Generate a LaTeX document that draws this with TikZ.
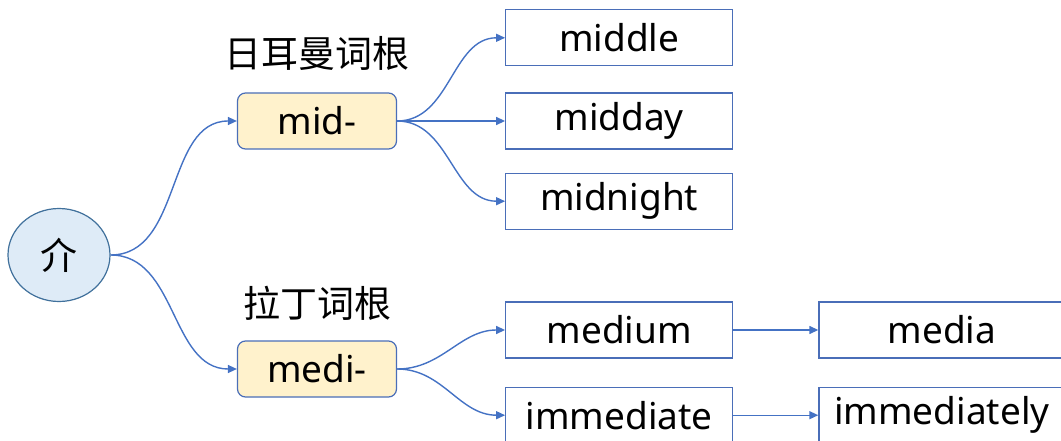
\documentclass[tikz,border=0pt]{standalone}
\usepackage{fontspec}
\setmainfont{Noto Sans}
\newfontfamily\cjk{Noto Sans CJK SC}
\usetikzlibrary{arrows.meta,positioning,shapes.geometric}
\definecolor{rootfill}{HTML}{DEEBF7}
\definecolor{rootline}{HTML}{41719C}
\definecolor{stemfill}{HTML}{FFF2CC}
\definecolor{boxline}{HTML}{4A6EB8}
\definecolor{arrblue}{HTML}{4472C4}
\newcommand{\bigtext}{\fontsize{37}{43}\selectfont}

\begin{document}
\begin{tikzpicture}[x=1pt, y=-1pt,
  rootnode/.style={ellipse, draw=rootline, fill=rootfill, line width=1.2pt, minimum width=102pt, minimum height=93pt, inner sep=0pt, font=\cjk\bigtext},
  stembox/.style={draw=boxline, fill=stemfill, rounded corners=8pt, line width=1.2pt, minimum width=159pt, minimum height=56pt, inner sep=0pt, font=\bigtext},
  leafbox/.style={draw=boxline, fill=white, line width=1.2pt, minimum width=227pt, minimum height=56pt, inner sep=0pt, font=\bigtext},
  widebox/.style={leafbox, minimum width=246pt},
  lbl/.style={inner sep=0pt, font=\cjk\bigtext},
  arr/.style={-{Triangle[length=9pt,width=8pt]}, draw=arrblue, line width=1.4pt}
]
\path[use as bounding box, clip] (0,0) rectangle (1061,441);

% root and stems
\node[rootnode] (jie) at (59,255) {介};
\node[stembox] (mid) at (317,121) {mid-};
\node[stembox] (medi) at (317,369) {medi-};
\node[lbl, above=22pt of mid] (germanic) {日耳曼词根};
\node[lbl, above=20pt of medi] (latin) {拉丁词根};

% Germanic words
\node[leafbox, right=108pt of mid] (midday) {midday};
\node[leafbox, above=26pt of midday] (middle) {middle};
\node[leafbox, below=23pt of midday] (midnight) {midnight};

% Latin words
\node[leafbox, right=108pt of medi, yshift=39pt] (medium) {medium};
\node[leafbox, below=28pt of medium] (immediate) {immediate};
\node[widebox, right=85pt of medium] (media) {media};
\node[widebox, right=85pt of immediate] (immediately) {immediately};

% arrows
\draw[arr] (jie.east) to[out=0,in=180] (mid.west);
\draw[arr] (jie.east) to[out=0,in=180] (medi.west);
\foreach \leaf in {middle,midday,midnight}
  \draw[arr] (mid.east) to[out=0,in=180] (\leaf.west);
\foreach \leaf in {medium,immediate}
  \draw[arr] (medi.east) to[out=0,in=180] (\leaf.west);
\draw[arr] (medium) -- (media);
\draw[arr] (immediate) -- (immediately);

\end{tikzpicture}
\end{document}
